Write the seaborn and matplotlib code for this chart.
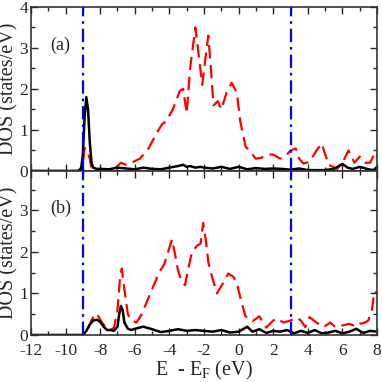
import numpy as np
import pandas as pd
import matplotlib
matplotlib.use("Agg")
import matplotlib.pyplot as plt
from matplotlib.ticker import MultipleLocator
import seaborn as sns

# panel (a) - solid black curve
a_black_x = [-12, -9.3, -9.1, -9.0, -8.9, -8.8, -8.7, -8.6, -8.5, -8.4, -8.2, -8.0, -7.5, -7.0,
             -6.5, -6.0, -5.5, -5.0, -4.5, -4.0, -3.5, -3.2, -3.0, -2.8, -2.5, -2.2, -2.0, -1.5,
             -1.0, -0.5, 0.0, 0.5, 1.0, 1.5, 2.0, 2.5, 3.0, 3.5, 4.0, 4.5, 5.0, 5.5, 6.0, 6.3,
             6.6, 7.0, 7.5, 7.8, 8.0]
a_black_y = [0, 0, 0.05, 0.4, 1.3, 1.8, 1.5, 0.7, 0.2, 0.08, 0.05, 0.05, 0.04, 0.08,
             0.06, 0.04, 0.08, 0.05, 0.04, 0.08, 0.12, 0.15, 0.1, 0.12, 0.08, 0.1, 0.08, 0.06,
             0.1, 0.05, 0.1, 0.04, 0.07, 0.05, 0.06, 0.05, 0.03, 0.06, 0.02, 0.02, 0.02, 0.05, 0.17, 0.08,
             0.05, 0.1, 0.04, 0.02, 0.1]

# panel (a) - dashed red curve
a_red_x = [-12, -9.2, -9.0, -8.9, -8.8, -8.6, -8.5, -8.3, -7.6, -7.1, -6.8, -6.5, -6.2, -5.7,
           -5.2, -4.7, -4.4, -4.2, -3.8, -3.4, -3.2, -3.0, -2.8, -2.5, -2.3, -2.1, -1.9, -1.75,
           -1.6, -1.45, -1.2, -1.0, -0.7, -0.4, -0.1, 0.1, 0.4, 0.7, 1.0, 1.3, 1.7, 2.0, 2.4,
           2.7, 3.0, 3.3, 3.5, 3.75, 4.1, 4.5, 4.8, 5.2, 5.7, 6.0, 6.35, 6.7, 7.0, 7.3, 7.6, 7.9, 8.0]
a_red_y = [0, 0, 0.2, 0.55, 0.55, 0.3, 0.05, 0.0, 0.0, 0.08, 0.2, 0.15, 0.2, 0.3,
           0.55, 0.95, 1.15, 1.2, 1.5, 1.95, 2.0, 1.4, 2.5, 3.5, 2.8, 2.1, 2.8, 3.3,
           2.5, 1.6, 1.7, 1.5, 1.9, 2.15, 1.9, 1.2, 0.6, 0.45, 0.3, 0.32, 0.4, 0.4, 0.3,
           0.35, 0.5, 0.55, 0.3, 0.18, 0.22, 0.5, 0.67, 0.15, 0.05, 0.2, 0.5, 0.2, 0.35, 0.2, 0.2, 0.45, 0.35]

# panel (b) - solid black curve
b_black_x = [-12, -9.0, -8.8, -8.6, -8.4, -8.2, -8.0, -7.8, -7.6, -7.4, -7.2, -7.0, -6.9, -6.8,
             -6.7, -6.6, -6.4, -6.2, -6.0, -5.5, -5.0, -4.5, -4.0, -3.5, -3.0, -2.5, -2.0, -1.5,
             -1.0, -0.5, 0.0, 0.5, 0.8, 1.2, 1.6, 2.0, 2.4, 2.8, 3.2, 3.6, 4.0, 4.4, 4.8, 5.2,
             5.6, 6.0, 6.4, 6.8, 7.2, 7.6, 8.0]
b_black_y = [0, 0, 0.1, 0.25, 0.35, 0.37, 0.32, 0.2, 0.12, 0.12, 0.1, 0.2, 0.5, 0.7,
             0.6, 0.3, 0.15, 0.12, 0.15, 0.2, 0.14, 0.07, 0.1, 0.14, 0.1, 0.12, 0.1, 0.08,
             0.12, 0.06, 0.08, 0.2, 0.08, 0.14, 0.05, 0.1, 0.08, 0.12, 0.04, 0.1, 0.05, 0.12, 0.04, 0.06,
             0.1, 0.04, 0.08, 0.15, 0.05, 0.1, 0.08]

# panel (b) - dashed red curve
b_red_x = [-12, -9.0, -8.8, -8.5, -8.3, -8.1, -7.9, -7.6, -7.4, -7.2, -7.0, -6.85, -6.75, -6.6,
           -6.4, -6.2, -5.9, -5.6, -5.3, -5.0, -4.6, -4.3, -4.0, -3.85, -3.7, -3.5, -3.3, -3.1,
           -2.9, -2.7, -2.4, -2.2, -2.05, -1.9, -1.75, -1.5, -1.25, -0.9, -0.6, -0.3, -0.1, 0.1,
           0.4, 0.8, 1.2, 1.6, 2.0, 2.2, 2.6, 3.0, 3.35, 3.6, 3.85, 4.1, 4.5, 4.9, 5.3, 5.6,
           6.0, 6.4, 6.8, 7.0, 7.3, 7.5, 7.7, 7.85, 8.0]
b_red_y = [0, 0, 0.08, 0.35, 0.52, 0.45, 0.3, 0.15, 0.12, 0.18, 0.6, 1.4, 1.6, 1.1,
           0.5, 0.35, 0.3, 0.5, 0.8, 1.1, 1.5, 1.7, 2.1, 2.3, 2.0, 1.55, 1.3, 1.2,
           1.6, 2.0, 2.15, 2.2, 2.7, 2.3, 1.75, 1.35, 1.0, 1.25, 1.48, 1.4, 1.25, 0.9,
           0.45, 0.33, 0.45, 0.18, 0.35, 0.4, 0.3, 0.35, 0.42, 0.35, 0.19, 0.43, 0.3, 0.19, 0.3, 0.19,
           0.23, 0.27, 0.2, 0.27, 0.3, 0.35, 0.6, 1.05, 1.0]

vlines_x = [-9, 3]
panel_labels = ["(a)", "(b)"]
x_ticks = [-12, -10, -8, -6, -4, -2, 0, 2, 4, 6, 8]

sns.set_style("ticks")
plt.rcParams['font.family'] = ['Liberation Serif', 'DejaVu Serif']
plt.rcParams['mathtext.fontset'] = 'custom'
plt.rcParams['mathtext.rm'] = 'Liberation Serif'
plt.rcParams['axes.unicode_minus'] = False

fig, axes = plt.subplots(2, 1, figsize=(3.82, 3.82), dpi=100, sharex=True)
fig.subplots_adjust(left=0.081, right=0.987, top=0.982, bottom=0.123, hspace=0)

series = [(a_black_x, a_black_y, a_red_x, a_red_y), (b_black_x, b_black_y, b_red_x, b_red_y)]
ylims = [(0, 4.0), (0, 3.95)]

for ax, (bx, by, rx, ry), lab, ylim in zip(axes, series, panel_labels, ylims):
    df_red = pd.DataFrame({'E': rx, 'DOS': ry})
    df_black = pd.DataFrame({'E': bx, 'DOS': by})
    sns.lineplot(data=df_red, x='E', y='DOS', ax=ax, color='red', linewidth=1.6, sort=True)
    ax.lines[-1].set_dashes((6, 3))
    sns.lineplot(data=df_black, x='E', y='DOS', ax=ax, color='black', linewidth=1.8, sort=True)
    for xv in vlines_x:
        ax.axvline(xv, color='blue', linewidth=1.6, linestyle=(0, (6, 2.2, 1.2, 2.2)))
    ax.set_xlim(-12, 8)
    ax.set_ylim(*ylim)
    ax.xaxis.set_major_locator(MultipleLocator(2))
    ax.xaxis.set_minor_locator(MultipleLocator(1))
    ax.yaxis.set_major_locator(MultipleLocator(1))
    ax.yaxis.set_minor_locator(MultipleLocator(0.5))
    ax.tick_params(which='both', direction='in', top=True, right=True, labelsize=12.5, pad=2)
    ax.tick_params(which='major', length=5, width=1)
    ax.tick_params(which='minor', length=3, width=1)
    for s in ax.spines.values():
        s.set_linewidth(1.2)
        s.set_color('#333333')
    ax.set_ylabel('DOS (states/eV)', fontsize=14.5, labelpad=1)
    ax.set_xlabel('')
    ax.text(-10.9, 2.95, lab, fontsize=13)

axes[1].set_yticks([0, 1, 2, 3])
axes[0].tick_params(labelbottom=False)
axes[1].set_xticks(x_ticks)
axes[1].tick_params(axis='x', which='major', pad=5.5)
axes[1].set_xlabel(r'E  - E$_\mathrm{F}$ (eV)', fontsize=14.5, labelpad=0)
for t in axes[1].get_yticklabels():
    t.set_verticalalignment('center_baseline')

fig.savefig('out.png', dpi=100)
